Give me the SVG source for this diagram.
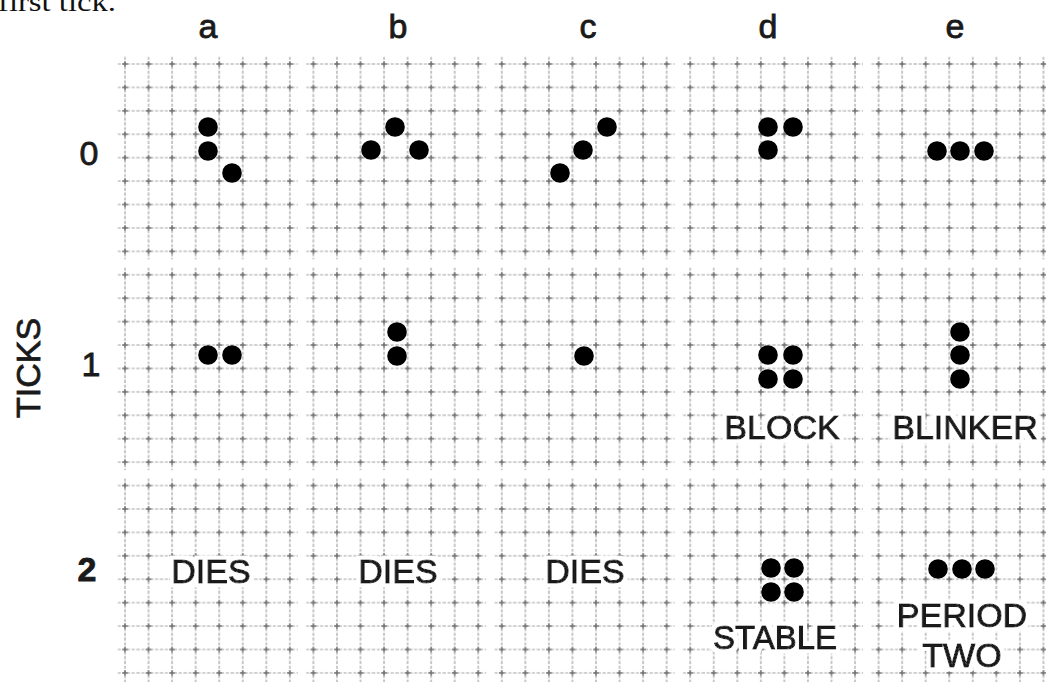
<svg xmlns="http://www.w3.org/2000/svg" width="1046" height="682" viewBox="0 0 1046 682">
  <defs>
    <pattern id="grid" patternUnits="userSpaceOnUse" x="113.225" y="52.29" width="23.55" height="23.42">
      <line x1="11.775" y1="0" x2="11.775" y2="23.42" stroke="#a0a0a0" stroke-width="1.15" stroke-dasharray="3 1.6"/>
      <line x1="0" y1="11.71" x2="23.55" y2="11.71" stroke="#a0a0a0" stroke-width="1.15" stroke-dasharray="3 1.6"/>
      <line x1="9" y1="11.71" x2="14.5" y2="11.71" stroke="#707070" stroke-width="1.5"/>
      <line x1="11.775" y1="9" x2="11.775" y2="14.5" stroke="#707070" stroke-width="1.5"/>
    </pattern>
    <filter id="halo" x="-10%" y="-30%" width="120%" height="160%">
      <feMorphology in="SourceAlpha" operator="dilate" radius="3.5" result="d"/>
      <feFlood flood-color="#ffffff"/>
      <feComposite in2="d" operator="in" result="w"/>
      <feMerge><feMergeNode in="w"/><feMergeNode in="SourceGraphic"/></feMerge>
    </filter>
  </defs>
  <style>
    .t { font-family: "Liberation Sans", Arial, sans-serif; font-size: 34px; fill: #1a1a1a; stroke: #1a1a1a; stroke-width: 0.8px; text-anchor: middle; }
    .h { filter: url(#halo); stroke-width: 1.1px; }
    .dot { fill: #000; }
    .panel rect { fill: url(#grid); }
  </style>
  <rect width="1046" height="682" fill="#fff"/>

  <text x="-2" y="11" font-family="'Liberation Serif', 'DejaVu Serif', serif" font-size="28" fill="#111" textLength="118" lengthAdjust="spacingAndGlyphs">first tick.</text>

  <g id="column-labels">
    <text class="t" x="208" y="38">a</text>
    <text class="t" x="398" y="38">b</text>
    <text class="t" x="588" y="38">c</text>
    <text class="t" x="768" y="38">d</text>
    <text class="t" x="955" y="38">e</text>
  </g>
  <g id="row-labels">
    <text class="t" x="89" y="165">0</text>
    <text class="t" x="91" y="376">1</text>
    <text class="t" x="87" y="581" font-weight="bold">2</text>
    <text class="t" transform="translate(40,368) rotate(-90)" x="0" y="0" font-size="35">TICKS</text>
  </g>

  <!-- grid panels -->
  <g id="grid-panels">
    <g class="panel" id="panel-a0"><rect x="117" y="56" width="180.85" height="203.36"/></g>
    <g class="panel" id="panel-b0"><rect x="305.4" y="56" width="180.85" height="203.36"/></g>
    <g class="panel" id="panel-c0"><rect x="493.8" y="56" width="180.85" height="203.36"/></g>
    <g class="panel" id="panel-d0"><rect x="682.2" y="56" width="180.85" height="203.36"/></g>
    <g class="panel" id="panel-e0"><rect x="870.6" y="56" width="180.85" height="203.36"/></g>
    <g class="panel" id="panel-a1"><rect x="117" y="266.78" width="180.85" height="203.36"/></g>
    <g class="panel" id="panel-b1"><rect x="305.4" y="266.78" width="180.85" height="203.36"/></g>
    <g class="panel" id="panel-c1"><rect x="493.8" y="266.78" width="180.85" height="203.36"/></g>
    <g class="panel" id="panel-d1"><rect x="682.2" y="266.78" width="180.85" height="203.36"/></g>
    <g class="panel" id="panel-e1"><rect x="870.6" y="266.78" width="180.85" height="203.36"/></g>
    <g class="panel" id="panel-a2"><rect x="117" y="477.56" width="180.85" height="204.44"/></g>
    <g class="panel" id="panel-b2"><rect x="305.4" y="477.56" width="180.85" height="204.44"/></g>
    <g class="panel" id="panel-c2"><rect x="493.8" y="477.56" width="180.85" height="204.44"/></g>
    <g class="panel" id="panel-d2"><rect x="682.2" y="477.56" width="180.85" height="204.44"/></g>
    <g class="panel" id="panel-e2"><rect x="870.6" y="477.56" width="180.85" height="204.44"/></g>
  </g>

  <g id="connectors"></g>

  <!-- tick 0 -->
  <g id="cells-a0"><circle class="dot" cx="208" cy="127" r="9.8"/><circle class="dot" cx="208" cy="151" r="9.8"/><circle class="dot" cx="232" cy="173" r="9.8"/></g>
  <g id="cells-b0"><circle class="dot" cx="371" cy="150" r="9.8"/><circle class="dot" cx="395" cy="127" r="9.8"/><circle class="dot" cx="419" cy="150" r="9.8"/></g>
  <g id="cells-c0"><circle class="dot" cx="560" cy="173" r="9.8"/><circle class="dot" cx="583" cy="150" r="9.8"/><circle class="dot" cx="607" cy="127" r="9.8"/></g>
  <g id="cells-d0"><circle class="dot" cx="768" cy="127" r="9.8"/><circle class="dot" cx="793" cy="127" r="9.8"/><circle class="dot" cx="768" cy="150" r="9.8"/></g>
  <g id="cells-e0"><circle class="dot" cx="937" cy="151" r="9.8"/><circle class="dot" cx="960" cy="151" r="9.8"/><circle class="dot" cx="984" cy="151" r="9.8"/></g>

  <!-- tick 1 -->
  <g id="cells-a1"><circle class="dot" cx="208" cy="355" r="9.8"/><circle class="dot" cx="232" cy="355" r="9.8"/></g>
  <g id="cells-b1"><circle class="dot" cx="397" cy="332" r="9.8"/><circle class="dot" cx="397" cy="356" r="9.8"/></g>
  <g id="cells-c1"><circle class="dot" cx="584" cy="356" r="9.8"/></g>
  <g id="cells-d1"><circle class="dot" cx="768" cy="355" r="9.8"/><circle class="dot" cx="793" cy="355" r="9.8"/><circle class="dot" cx="768" cy="379" r="9.8"/><circle class="dot" cx="793" cy="379" r="9.8"/>
    <text class="t h" x="782" y="439">BLOCK</text></g>
  <g id="cells-e1"><circle class="dot" cx="960" cy="332" r="9.8"/><circle class="dot" cx="960" cy="355" r="9.8"/><circle class="dot" cx="960" cy="379" r="9.8"/>
    <text class="t h" x="965" y="439">BLINKER</text></g>

  <!-- tick 2 -->
  <g id="cells-a2"><text class="t h" x="211" y="583">DIES</text></g>
  <g id="cells-b2"><text class="t h" x="398" y="583">DIES</text></g>
  <g id="cells-c2"><text class="t h" x="585" y="583">DIES</text></g>
  <g id="cells-d2"><circle class="dot" cx="771" cy="568" r="9.8"/><circle class="dot" cx="794" cy="568" r="9.8"/><circle class="dot" cx="771" cy="592" r="9.8"/><circle class="dot" cx="794" cy="592" r="9.8"/>
    <text class="t h" x="775" y="649" textLength="124" lengthAdjust="spacingAndGlyphs">STABLE</text></g>
  <g id="cells-e2"><circle class="dot" cx="938" cy="569" r="9.8"/><circle class="dot" cx="962" cy="569" r="9.8"/><circle class="dot" cx="985" cy="569" r="9.8"/>
    <text class="t h" x="962" y="627">PERIOD</text>
    <text class="t h" x="962" y="667">TWO</text></g>
</svg>
